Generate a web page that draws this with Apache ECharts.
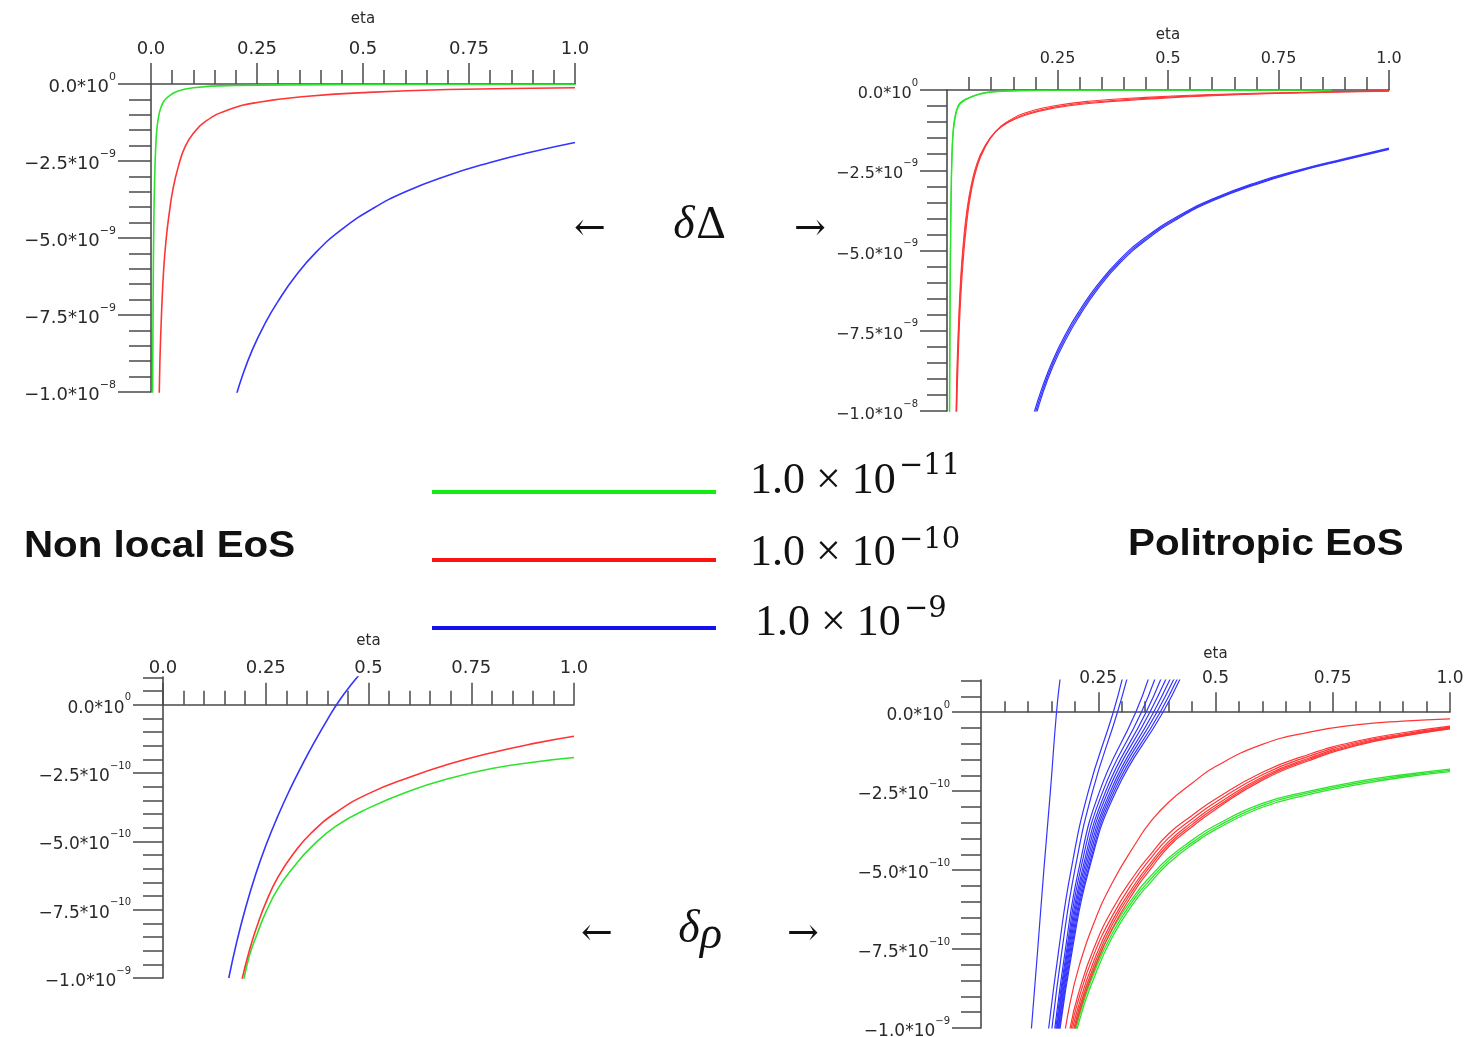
<!DOCTYPE html>
<html>
<head>
<meta charset="utf-8">
<script src="https://cdn.jsdelivr.net/npm/echarts@6/dist/echarts.min.js"></script>
<style>
  html, body { margin: 0; padding: 0; background: #fff; }
  #chart { width: 1470px; height: 1037px; }
</style>
</head>
<body>
<div id="chart"></div>
<script>
// ---- tick labels ----
const xTickValues = [0, 0.25, 0.5, 0.75, 1];
const xTickLabels = ['0.0', '0.25', '0.5', '0.75', '1.0'];
const yTickValues = [-10, -7.5, -5, -2.5, 0];
const yMantissa = ['−1.0', '−7.5', '−5.0', '−2.5', '0.0'];
const topExps = ['−8', '−9', '−9', '−9', '0'];      // delta Delta panels, y in 1e-9
const bottomExps = ['−9', '−10', '−10', '−10', '0']; // delta rho panels, y in 1e-10

// ---- panel 1: non local EoS, delta Delta (y in units of 1e-9) ----
const p1GreenX = [0.003, 0.005, 0.007, 0.009, 0.011, 0.014, 0.018, 0.023, 0.03, 0.04, 0.06, 0.1, 0.2, 0.5, 1.0];
const p1GreenY = [-12, -7, -4.2, -2.9, -2.1, -1.45, -1.05, -0.78, -0.57, -0.42, -0.25, -0.12, -0.05, -0.018, -0.008];
const p1RedX = [0.018, 0.021, 0.025, 0.03, 0.036, 0.043, 0.052, 0.065, 0.08, 0.1, 0.13, 0.18, 0.25, 0.37, 0.5, 0.7, 1.0];
const p1RedY = [-11, -9.0, -7.4, -6.0, -5.0, -4.2, -3.4, -2.65, -2.05, -1.6, -1.2, -0.85, -0.6, -0.4, -0.28, -0.18, -0.12];
const p1BlueX = [0.195, 0.215, 0.24, 0.27, 0.3, 0.34, 0.39, 0.45, 0.52, 0.6, 0.7, 0.8, 0.9, 1.0];
const p1BlueY = [-10.4, -9.5, -8.6, -7.75, -7.05, -6.25, -5.45, -4.72, -4.07, -3.5, -2.97, -2.55, -2.2, -1.9];

// ---- panel 2: politropic EoS, delta Delta (y in units of 1e-9) ----
const p2GreenX = [0.0045, 0.006, 0.008, 0.010, 0.012, 0.015, 0.02, 0.025, 0.03, 0.04, 0.05, 0.065, 0.08, 0.1, 0.13, 0.17, 0.25, 0.4, 0.6, 0.87];
const p2GreenAY = [-14, -8.5, -4.5, -2.6, -1.7, -1.1, -0.7, -0.5, -0.4, -0.3, -0.24, -0.16, -0.1, -0.06, -0.035, -0.02, -0.01, -0.005, -0.003, -0.002];
const p2GreenBY = [-15, -9.5, -5.0, -2.9, -1.85, -1.2, -0.76, -0.54, -0.43, -0.32, -0.25, -0.17, -0.11, -0.065, -0.04, -0.022, -0.011, -0.006, -0.003, -0.002];
const p2RedX = [0.019, 0.022, 0.026, 0.031, 0.037, 0.045, 0.055, 0.068, 0.085, 0.11, 0.14, 0.18, 0.24, 0.32, 0.45, 0.6, 0.8, 1.0];
const p2RedAY = [-11.5, -9.4, -7.6, -6.1, -4.95, -3.9, -3.05, -2.35, -1.8, -1.3, -0.98, -0.74, -0.54, -0.39, -0.26, -0.16, -0.08, -0.03];
const p2RedBY = [-12.3, -10.0, -8.1, -6.5, -5.25, -4.1, -3.15, -2.4, -1.82, -1.3, -0.96, -0.7, -0.5, -0.35, -0.23, -0.14, -0.07, -0.025];
const p2RedCY = [-11.0, -9.0, -7.3, -5.85, -4.75, -3.75, -2.95, -2.28, -1.76, -1.3, -1.0, -0.77, -0.57, -0.42, -0.29, -0.18, -0.09, -0.035];
const p2BlueX = [0.195, 0.215, 0.24, 0.27, 0.3, 0.34, 0.39, 0.45, 0.52, 0.6, 0.7, 0.8, 0.9, 1.0];
const p2BlueAY = [-10.3, -9.4, -8.5, -7.65, -6.95, -6.15, -5.35, -4.63, -3.99, -3.43, -2.91, -2.5, -2.16, -1.83];
const p2BlueBY = [-10.45, -9.52, -8.6, -7.74, -7.03, -6.22, -5.41, -4.68, -4.03, -3.46, -2.94, -2.52, -2.18, -1.85];
const p2BlueCY = [-10.15, -9.28, -8.4, -7.56, -6.87, -6.08, -5.29, -4.58, -3.95, -3.4, -2.88, -2.48, -2.14, -1.81];

// ---- panel 3: non local EoS, delta rho (y in units of 1e-10) ----
const p3BlueX = [0.16, 0.18, 0.2, 0.225, 0.25, 0.28, 0.31, 0.34, 0.37, 0.4, 0.43, 0.46, 0.48];
const p3BlueY = [-10.0, -8.64, -7.48, -6.23, -5.16, -4.05, -3.06, -2.16, -1.32, -0.54, 0.18, 0.78, 1.14];
const p3RedX = [0.19, 0.21, 0.23, 0.25, 0.28, 0.32, 0.36, 0.42, 0.5, 0.6, 0.7, 0.8, 0.9, 1.0];
const p3RedY = [-10.2, -9.0, -8.05, -7.25, -6.3, -5.4, -4.7, -3.95, -3.25, -2.65, -2.15, -1.75, -1.42, -1.15];
const p3GreenX = [0.195, 0.21, 0.23, 0.25, 0.28, 0.32, 0.36, 0.42, 0.5, 0.6, 0.7, 0.8, 0.9, 1.0];
const p3GreenY = [-10.2, -9.2, -8.35, -7.6, -6.72, -5.9, -5.22, -4.45, -3.78, -3.15, -2.68, -2.33, -2.1, -1.93];

// ---- panel 4: politropic EoS, delta rho (y in units of 1e-10) ----
// blue runs are steep, so they are read as eta at fixed y levels
const p4BlueLevels = [-10.3, -7.5, -5, -2.5, 0, 1.1];
const p4BlueXs = [
  [0.106, 0.121, 0.134, 0.148, 0.161, 0.169],
  [0.142, 0.166, 0.192, 0.229, 0.282, 0.302],
  [0.149, 0.173, 0.200, 0.238, 0.291, 0.312],
  [0.155, 0.180, 0.208, 0.253, 0.330, 0.358],
  [0.157, 0.183, 0.212, 0.260, 0.342, 0.372],
  [0.159, 0.185, 0.216, 0.266, 0.352, 0.385],
  [0.160, 0.187, 0.219, 0.271, 0.360, 0.396],
  [0.162, 0.189, 0.222, 0.276, 0.368, 0.405],
  [0.163, 0.191, 0.225, 0.280, 0.375, 0.413],
  [0.165, 0.193, 0.228, 0.284, 0.382, 0.420],
  [0.166, 0.195, 0.230, 0.288, 0.388, 0.426]
];
const p4X = [0.17, 0.19, 0.21, 0.24, 0.28, 0.33, 0.36, 0.4, 0.45, 0.5, 0.6, 0.7, 0.8, 0.9, 1.0];
const p4RedYs = [
  [-11.0, -9.2, -8.0, -6.7, -5.4, -4.15, -3.5, -2.85, -2.25, -1.72, -1.02, -0.63, -0.4, -0.28, -0.21],
  [-12.0, -10.0, -8.8, -7.5, -6.25, -5.1, -4.53, -3.85, -3.27, -2.75, -1.9, -1.33, -0.92, -0.65, -0.44],
  [-12.3, -10.2, -9.0, -7.7, -6.45, -5.25, -4.66, -3.98, -3.38, -2.85, -1.98, -1.39, -0.96, -0.69, -0.47],
  [-12.5, -10.4, -9.2, -7.9, -6.6, -5.4, -4.8, -4.1, -3.48, -2.95, -2.05, -1.45, -1.0, -0.72, -0.49],
  [-12.7, -10.6, -9.35, -8.05, -6.72, -5.5, -4.9, -4.18, -3.56, -3.02, -2.1, -1.49, -1.03, -0.74, -0.51],
  [-12.9, -10.8, -9.5, -8.2, -6.85, -5.6, -5.0, -4.26, -3.63, -3.08, -2.15, -1.53, -1.06, -0.76, -0.53]
];
const p4GreenYs = [
  [-12.8, -10.8, -9.45, -8.15, -6.88, -5.75, -5.22, -4.62, -4.05, -3.58, -2.89, -2.5, -2.2, -1.98, -1.8],
  [-13.0, -11.0, -9.6, -8.3, -7.0, -5.85, -5.32, -4.7, -4.13, -3.65, -2.95, -2.55, -2.25, -2.02, -1.84],
  [-13.2, -11.2, -9.75, -8.45, -7.12, -5.95, -5.42, -4.78, -4.2, -3.72, -3.01, -2.6, -2.3, -2.06, -1.88]
];

const GREEN = '#2ee32e', RED = '#ff3434', BLUE = '#3434ff';
const AXIS = '#4a4a4a', TXT = '#2a2a2a';

const panels = [
  { grid: {left: 151, top: 84, width: 424, height: 308}, yMax: 0, xFont: 18, xMargin: 26, nameGap: 57,
    xTick: 21, xMinor: 14, yTick: 33, yMinor: 22, yMargin: 35, yFont: 18, hideZero: false, exps: topExps },
  { grid: {left: 947, top: 90, width: 442, height: 321}, yMax: 0, xFont: 16, xMargin: 23, nameGap: 47,
    xTick: 20, xMinor: 13, yTick: 27, yMinor: 20, yMargin: 29, yFont: 16, hideZero: true, exps: topExps },
  { grid: {left: 163, top: 677, width: 411, height: 301}, yMax: 1.02, xFont: 18, xMargin: 28, nameGap: 56,
    xTick: 22, xMinor: 14, yTick: 30, yMinor: 20, yMargin: 32, yFont: 17, hideZero: false, exps: bottomExps },
  { grid: {left: 981, top: 680, width: 469, height: 348}, yMax: 1.02, xFont: 17, xMargin: 25, nameGap: 51,
    xTick: 20, xMinor: 11, yTick: 29, yMinor: 20, yMargin: 31, yFont: 17, hideZero: true, exps: bottomExps }
];

const grid = [], xAxis = [], yAxis = [];
panels.forEach((p, i) => {
  grid.push(Object.assign({outerBoundsMode: 'none', containLabel: false}, p.grid));
  const xTick = {show: true, length: p.xTick, lineStyle: {color: AXIS, width: 1.5}};
  if (p.hideZero) xTick.customValues = xTickValues.slice(1);
  // the eta axis sits on y = 0, which lies below the top of the grid in the lower panels
  const zeroShift = p.grid.height * p.yMax / (p.yMax + 10);
  xAxis.push({
    gridIndex: i, type: 'value', position: 'top', offset: -zeroShift, min: 0, max: 1, interval: 0.25,
    name: 'eta', nameLocation: 'middle', nameGap: p.nameGap,
    nameTextStyle: {fontSize: 15, color: TXT, fontFamily: 'DejaVu Sans'},
    axisLine: {onZero: false, lineStyle: {color: AXIS, width: 1.6}},
    axisTick: xTick,
    minorTick: {show: true, splitNumber: 5, length: p.xMinor, lineStyle: {color: AXIS, width: 1.5}},
    splitLine: {show: false},
    axisLabel: {
      margin: p.xMargin, fontSize: p.xFont, color: TXT, fontFamily: 'DejaVu Sans',
      formatter: v => {
        const k = xTickValues.indexOf(v);
        if (k < 0 || (p.hideZero && k === 0)) return '';
        return xTickLabels[k];
      }
    }
  });
  yAxis.push({
    gridIndex: i, type: 'value', min: -10, max: p.yMax, interval: 2.5,
    axisLine: {onZero: false, lineStyle: {color: AXIS, width: 1.6}},
    axisTick: {show: true, length: p.yTick, customValues: yTickValues, lineStyle: {color: AXIS, width: 1.5}},
    minorTick: {show: true, splitNumber: 5, length: p.yMinor, lineStyle: {color: AXIS, width: 1.5}},
    splitLine: {show: false},
    axisLabel: {
      margin: p.yMargin, customValues: yTickValues,
      formatter: v => {
        const k = yTickValues.indexOf(v);
        if (k < 0) return '';
        return '{m|' + yMantissa[k] + '*10}{s|' + p.exps[k] + '}';
      },
      rich: {
        m: {fontSize: p.yFont, color: TXT, fontFamily: 'DejaVu Sans', lineHeight: 24, verticalAlign: 'bottom'},
        s: {fontSize: Math.round(p.yFont * 0.6), color: TXT, fontFamily: 'DejaVu Sans', lineHeight: 12, verticalAlign: 'top'}
      }
    }
  });
});

const series = [];
function addLine(g, xs, ys, color, w) {
  series.push({
    type: 'line', xAxisIndex: g, yAxisIndex: g,
    data: xs.map((x, i) => [x, ys[i]]),
    showSymbol: false, symbol: 'none', smooth: 0.5, clip: true, silent: true,
    lineStyle: {color: color, width: w}, itemStyle: {color: color}, z: 3
  });
}
// panel 1
addLine(0, p1GreenX, p1GreenY, GREEN, 1.6);
addLine(0, p1RedX, p1RedY, RED, 1.6);
addLine(0, p1BlueX, p1BlueY, BLUE, 1.6);
// panel 2
addLine(1, p2GreenX, p2GreenAY, GREEN, 1.3);
addLine(1, p2GreenX, p2GreenBY, GREEN, 1.3);
[p2RedAY, p2RedBY, p2RedCY].forEach(ys => addLine(1, p2RedX, ys, RED, 1.1));
[p2BlueAY, p2BlueBY, p2BlueCY].forEach(ys => addLine(1, p2BlueX, ys, BLUE, 1.2));
// panel 3
addLine(2, p3BlueX, p3BlueY, BLUE, 1.6);
addLine(2, p3GreenX, p3GreenY, GREEN, 1.6);
addLine(2, p3RedX, p3RedY, RED, 1.6);
// panel 4
p4BlueXs.forEach(xs => addLine(3, xs, p4BlueLevels, BLUE, 1.2));
p4GreenYs.forEach(ys => addLine(3, p4X, ys, GREEN, 1.3));
p4RedYs.forEach(ys => addLine(3, p4X, ys, RED, 1.2));

function txt(x, y, text, font, opts) {
  return {
    type: 'text', x: x, y: y, silent: true,
    style: Object.assign({text: text, font: font, fill: '#111', align: 'left', verticalAlign: 'middle'}, opts || {})
  };
}
const serif = '"Liberation Serif"';
const graphic = [
  // delta Delta arrows
  txt(590, 230, '←', '38px "DejaVu Serif"', {align: 'center'}),
  txt(684, 226, 'δ', 'italic 46px ' + serif, {align: 'center'}),
  txt(711, 226, 'Δ', '46px ' + serif, {align: 'center'}),
  txt(810, 230, '→', '38px "DejaVu Serif"', {align: 'center'}),
  // delta rho arrows
  txt(597, 935, '←', '38px "DejaVu Serif"', {align: 'center'}),
  txt(689, 930, 'δ', 'italic 46px ' + serif, {align: 'center'}),
  txt(711, 936, 'ρ', 'italic 46px ' + serif, {align: 'center'}),
  txt(803, 935, '→', '38px "DejaVu Serif"', {align: 'center'}),
  // panel row titles
  Object.assign(txt(24, 547, 'Non local EoS', 'bold 36px "Liberation Sans"'), {scaleX: 1.12}),
  Object.assign(txt(1128, 545, 'Politropic EoS', 'bold 36px "Liberation Sans"'), {scaleX: 1.12}),
  // key
  {type: 'line', silent: true, shape: {x1: 432, y1: 492, x2: 716, y2: 492}, style: {stroke: '#12ee12', lineWidth: 4}},
  {type: 'line', silent: true, shape: {x1: 432, y1: 560, x2: 716, y2: 560}, style: {stroke: '#ff1212', lineWidth: 4}},
  {type: 'line', silent: true, shape: {x1: 432, y1: 628, x2: 716, y2: 628}, style: {stroke: '#1212ee', lineWidth: 4}},
  txt(750, 481, '1.0 × 10', '44px ' + serif),
  txt(899, 466, '−11', '29px "DejaVu Serif"'),
  txt(750, 553, '1.0 × 10', '44px ' + serif),
  txt(899, 540, '−10', '29px "DejaVu Serif"'),
  txt(755, 623, '1.0 × 10', '44px ' + serif),
  txt(904, 609, '−9', '29px "DejaVu Serif"')
];

const chart = echarts.init(document.getElementById('chart'));
chart.setOption({
  animation: false,
  backgroundColor: '#fff',
  grid: grid,
  xAxis: xAxis,
  yAxis: yAxis,
  series: series,
  graphic: graphic
});
</script>
</body>
</html>
